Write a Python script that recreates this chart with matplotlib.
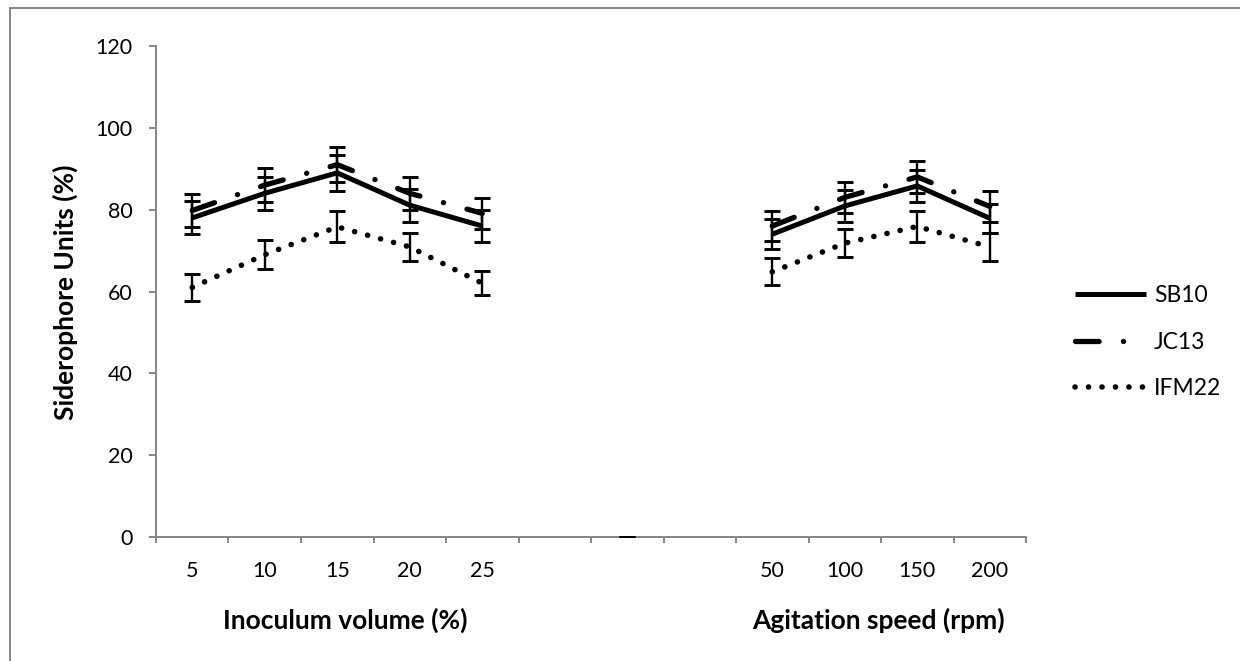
import numpy as np
import matplotlib
matplotlib.use('Agg')
import matplotlib.pyplot as plt
from matplotlib.lines import Line2D

plt.rcParams['font.family'] = ['Lato', 'DejaVu Sans']
plt.rcParams['lines.scale_dashes'] = False

categories = ['5', '10', '15', '20', '25', '', '', '', '50', '100', '150', '200']
nan = np.nan

sb10 = [78.0, 84.0, 89.0, 81.1, 76.0, nan, nan, nan, 74.0, 80.9, 85.8, 77.9]
jc13 = [79.8, 86.0, 91.0, 84.0, 79.1, nan, nan, nan, 76.0, 83.0, 88.0, 80.8]
ifm22 = [61.0, 69.0, 75.8, 70.9, 62.0, nan, nan, nan, 64.8, 71.8, 75.9, 70.9]

sb10_err = [4.0, 4.1, 4.4, 4.0, 3.8, nan, nan, nan, 3.7, 3.8, 4.0, 3.6]
jc13_err = [4.0, 4.1, 4.2, 4.0, 3.8, nan, nan, nan, 3.7, 3.8, 4.0, 3.75]
ifm22_err = [3.2, 3.6, 3.8, 3.5, 2.9, nan, nan, nan, 3.3, 3.4, 3.75, 3.4]

# the lone zero point with no error sitting in the gap
gap_value = [nan, nan, nan, nan, nan, nan, 0.0, nan, nan, nan, nan, nan]
gap_err = [nan, nan, nan, nan, nan, nan, 0.0, nan, nan, nan, nan, nan]

x = np.arange(len(categories))

fig = plt.figure(figsize=(12.4, 6.61), dpi=100)
ax = fig.add_axes([156 / 1240, 1 - 537 / 661, 870 / 1240, 491 / 661])

axis_grey = '#868686'

# Lines
ax.plot(x, sb10, color='black', lw=3.6, solid_capstyle='butt', label='SB10', zorder=3)
ax.plot(x, jc13, color='black', lw=3.8, dashes=(17, 17.5, 0.1, 17.5),
        dash_capstyle='round', label='JC13', zorder=3)
ax.plot(x, ifm22, color='black', lw=4.0, dashes=(0.1, 9.6),
        dash_capstyle='round', label='IFM22', zorder=3)

# Error bars
for vals, errs in [(sb10, sb10_err), (jc13, jc13_err), (ifm22, ifm22_err), (gap_value, gap_err)]:
    ax.errorbar(x, vals, yerr=errs, fmt='none', ecolor='black',
                elinewidth=1.7, capsize=5.8, capthick=2.1, zorder=4)

# Axes
ax.set_xlim(-0.5, len(categories) - 0.5)
ax.set_ylim(0, 120)
ax.set_yticks(range(0, 121, 20))
ax.set_xticks(np.arange(-0.5, len(categories), 1))
ax.set_xticklabels([])
ax.set_xticks(x, minor=True)
ax.set_xticklabels(categories, minor=True)

for side in ['top', 'right']:
    ax.spines[side].set_visible(False)
for side in ['left', 'bottom']:
    ax.spines[side].set_color(axis_grey)
    ax.spines[side].set_linewidth(1.4)

ax.tick_params(axis='y', which='major', direction='out', length=4.8, width=1.4,
               color=axis_grey, labelsize=15.5, pad=12)
ax.tick_params(axis='x', which='major', direction='out', length=4.5, width=1.4,
               color=axis_grey)
ax.tick_params(axis='x', which='minor', length=0, labelsize=15.5, pad=17)

ax.set_ylabel('Siderophore Units (%)', fontsize=19, fontweight='bold')
ax.yaxis.set_label_coords(-0.0897, 0.499)

ax.text(0.2172, -0.169, 'Inoculum volume (%)', transform=ax.transAxes,
        ha='center', va='center', fontsize=19, fontweight='bold')
ax.text(0.8299, -0.169, 'Agitation speed (rpm)', transform=ax.transAxes,
        ha='center', va='center', fontsize=19, fontweight='bold')

# Legend
ax.legend(loc='center left', bbox_to_anchor=(1.056, 0.397), frameon=False,
          fontsize=16.5, handlelength=3.1, handletextpad=0.35, labelspacing=1.1,
          borderpad=0, borderaxespad=0)

# chart area border
fig.add_artist(Line2D([10 / 1240, 10 / 1240], [0, 1 - 8 / 661], color=axis_grey, lw=1.4))
fig.add_artist(Line2D([10 / 1240, 1], [1 - 8 / 661, 1 - 8 / 661], color=axis_grey, lw=1.4))

fig.savefig('out.png', dpi=100)
